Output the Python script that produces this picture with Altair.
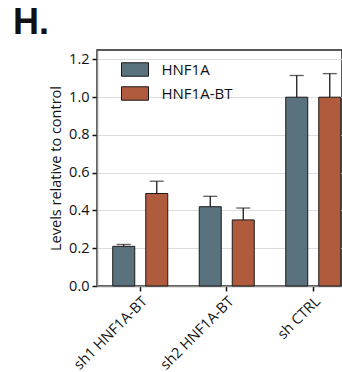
import altair as alt
import pandas as pd

# Knockdown conditions and measured series
groups = ["sh1 HNF1A-BT", "sh2 HNF1A-BT", "sh CTRL"]
series = ["HNF1A", "HNF1A-BT"]
hnf1a = [0.21, 0.42, 1.00]
hnf1a_err = [0.01, 0.055, 0.115]
hnf1a_bt = [0.49, 0.35, 1.00]
hnf1a_bt_err = [0.065, 0.063, 0.125]
y_ticks = [0.0, 0.2, 0.4, 0.6, 0.8, 1.0, 1.2]

colors = ["#5a727d", "#b05b3d"]
FONT = "Open Sans"

rows = []
for g, v1, e1, v2, e2 in zip(groups, hnf1a, hnf1a_err, hnf1a_bt, hnf1a_bt_err):
    rows.append({"group": g, "series": series[0], "value": v1, "upper": v1 + e1})
    rows.append({"group": g, "series": series[1], "value": v2, "upper": v2 + e2})
df = pd.DataFrame(rows)

base = alt.Chart(df).encode(
    x=alt.X(
        "group:N",
        sort=groups,
        title=None,
        scale=alt.Scale(range=[0, 259.5], paddingInner=0.364, paddingOuter=0.182),
        axis=alt.Axis(
            labelAngle=-45,
            labelFontSize=14.5,
            labelFont=FONT,
            labelColor="#111",
            labelPadding=3,
            tickSize=5,
            tickColor="#111",
            tickWidth=1.5,
            domainColor="#8a8a8a",
            domainWidth=1.5,
            grid=False,
        ),
    ),
    xOffset=alt.XOffset(
        "series:N", sort=series, scale=alt.Scale(paddingInner=1 / 3, paddingOuter=0)
    ),
)

y_scale = alt.Scale(domain=[0, 1.25], nice=False)
y_axis = alt.Axis(
    values=y_ticks,
    format=".1f",
    labelOverlap=False,
    labelFontSize=14.5,
    labelFont=FONT,
    labelColor="#111",
    labelPadding=3,
    tickSize=5,
    tickColor="#111",
    tickWidth=1.5,
    domainColor="#8a8a8a",
    domainWidth=1.5,
    gridColor="#dddddd",
    gridWidth=1,
    titleFont=FONT,
    titleFontSize=14.5,
    titleFontWeight="normal",
    titleColor="#111",
    titlePadding=5,
)
y_title = "Levels relative to control"

bars = base.mark_bar(stroke="#1a1a1a", strokeWidth=1).encode(
    y=alt.Y("value:Q", scale=y_scale, title=y_title, axis=y_axis),
    color=alt.Color(
        "series:N",
        scale=alt.Scale(domain=series, range=colors),
        legend=alt.Legend(
            title=None,
            orient="none",
            legendX=30.5,
            legendY=12,
            padding=0,
            symbolType="M-2,-1H2V1H-2Z",
            symbolSize=182,
            symbolStrokeColor="#1a1a1a",
            symbolStrokeWidth=1,
            symbolOpacity=1,
            labelFont=FONT,
            labelFontSize=15,
            labelColor="#111",
            labelOffset=19,
            labelLimit=200,
            rowPadding=5,
        ),
    ),
)

rules = base.mark_rule(color="#1a1a1a", strokeWidth=1.3).encode(
    y=alt.Y("value:Q", scale=y_scale, title=y_title, axis=y_axis), y2="upper:Q"
)
caps = base.mark_tick(color="#1a1a1a", thickness=1.3, size=14).encode(
    y=alt.Y("upper:Q", scale=y_scale, title=y_title, axis=y_axis)
)

chart = (
    alt.layer(bars, rules, caps)
    .properties(
        width=245,
        height=236,
        autosize=alt.AutoSizeParams(type="none"),
        padding={"left": 97, "top": 50, "right": 0, "bottom": 86},
        title=alt.Title(
            "H.",
            anchor="start",
            frame="group",
            font="Liberation Sans",
            fontSize=36,
            fontWeight="bold",
            color="#111",
            baseline="alphabetic",
            offset=13,
            dx=-84,
            dy=33,
        ),
    )
    .configure_view(stroke="#222", strokeWidth=1.5)
)

chart.save("out.html", embed_options={"renderer": "svg", "actions": False})
